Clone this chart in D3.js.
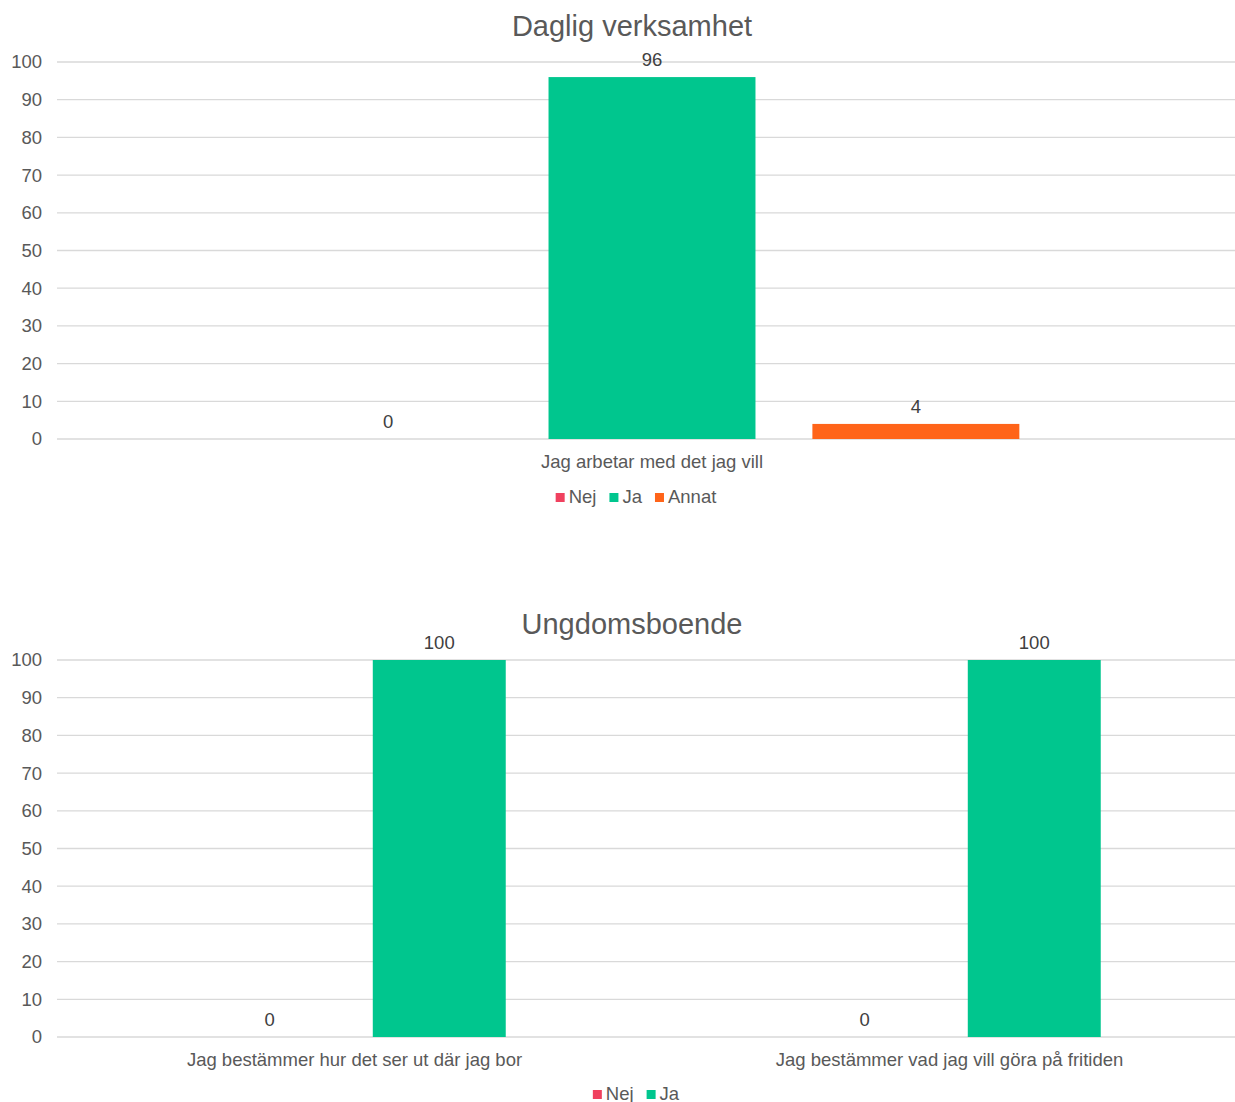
<!DOCTYPE html>
<html>
<head>
<meta charset="utf-8">
<script src="https://cdn.jsdelivr.net/npm/d3@7"></script>
<style>
body { margin: 0; background: #fff; }
svg { display: block; font-family: "Liberation Sans", Arial, sans-serif; }
</style>
</head>
<body>
<svg id="svg" width="1235" height="1102"></svg>
<script>
// chart 1
const categories1 = ['Jag arbetar med det jag vill'];
const series1 = ['Nej', 'Ja', 'Annat'];
const values1 = [[0, 96, 4]];

// chart 2
const categories2 = ['Jag bestämmer hur det ser ut där jag bor', 'Jag bestämmer vad jag vill göra på fritiden'];
const series2 = ['Nej', 'Ja'];
const values2 = [[0, 100], [0, 100]];

const yTicks = [0, 10, 20, 30, 40, 50, 60, 70, 80, 90, 100];
const colors = { Nej: '#F0415F', Ja: '#00C68E', Annat: '#FF6419' };

const FS = 18.5;
const svg = d3.select('#svg');

function drawChart(opt) {
	let { title, categories, series, values, top, bottom, titleY, legendY } = opt;
	let left = 57, right = 1247;
	let g = svg.append('g');

	let y = d3.scaleLinear().domain([0, 100]).range([bottom, top]);
	let x0 = d3.scaleBand().domain(categories).range([left, right]);

	// excel style: gap width 220%, overlap -27.5%
	let n = series.length,
		bw = x0.bandwidth(),
		w = bw / (n + (n - 1) * 0.275 + 2.2),
		gw = n * w + (n - 1) * 0.275 * w;
	let x1 = d3.scaleBand().domain(series)
		.range([bw / 2 - gw / 2, bw / 2 + gw / 2])
		.paddingInner(0.275 / 1.275);

	// grid
	g.append('g').selectAll('line').data(yTicks).enter().append('line')
		.attr('x1', left).attr('x2', right)
		.attr('y1', d => y(d)).attr('y2', d => y(d))
		.attr('stroke', '#d9d9d9').attr('stroke-width', 1.3);

	// y axis labels
	let yAxis = d3.axisLeft(y).tickValues(yTicks).tickSize(0).tickPadding(15);
	let ya = g.append('g').attr('transform', `translate(${left},0)`).call(yAxis);
	ya.select('.domain').remove();
	ya.selectAll('text').attr('fill', '#595959').attr('font-size', FS).attr('font-family', '"Liberation Sans", Arial, sans-serif');

	// bars
	categories.forEach((c, ci) => {
		let cg = g.append('g').attr('transform', `translate(${x0(c)},0)`);
		let rows = series.map((s, si) => ({ s, v: values[ci][si] }));
		cg.selectAll('rect').data(rows).enter().append('rect')
			.attr('x', d => x1(d.s)).attr('width', x1.bandwidth())
			.attr('y', d => y(d.v)).attr('height', d => y(0) - y(d.v))
			.attr('fill', d => colors[d.s]);
		cg.selectAll('text.lbl').data(rows).enter().append('text')
			.attr('class', 'lbl')
			.attr('x', d => x1(d.s) + x1.bandwidth() / 2)
			.attr('y', d => y(d.v) - 11)
			.attr('text-anchor', 'middle')
			.attr('font-size', FS).attr('fill', '#404040')
			.text(d => d.v);
		cg.append('text')
			.attr('x', bw / 2).attr('y', bottom + 29)
			.attr('text-anchor', 'middle')
			.attr('font-size', FS).attr('fill', '#595959')
			.text(c);
	});

	// title
	g.append('text').attr('x', 632).attr('y', titleY)
		.attr('text-anchor', 'middle').attr('font-size', 29).attr('fill', '#595959')
		.text(title);

	// legend
	let lg = g.append('g');
	let xpos = 0;
	series.forEach(s => {
		let item = lg.append('g').attr('transform', `translate(${xpos},0)`);
		item.append('rect').attr('x', 0).attr('y', -10).attr('width', 9).attr('height', 9).attr('fill', colors[s]);
		let t = item.append('text').attr('x', 13).attr('y', 0).attr('font-size', FS).attr('fill', '#595959').text(s);
		xpos += 13 + t.node().getComputedTextLength() + 13;
	});
	let lw = xpos - 13;
	lg.attr('transform', `translate(${636 - lw / 2},${legendY})`);
}

drawChart({
	title: 'Daglig verksamhet', categories: categories1, series: series1, values: values1,
	top: 62, bottom: 439, titleY: 36, legendY: 503,
});
drawChart({
	title: 'Ungdomsboende', categories: categories2, series: series2, values: values2,
	top: 660, bottom: 1037, titleY: 634, legendY: 1100,
});
</script>
</body>
</html>
